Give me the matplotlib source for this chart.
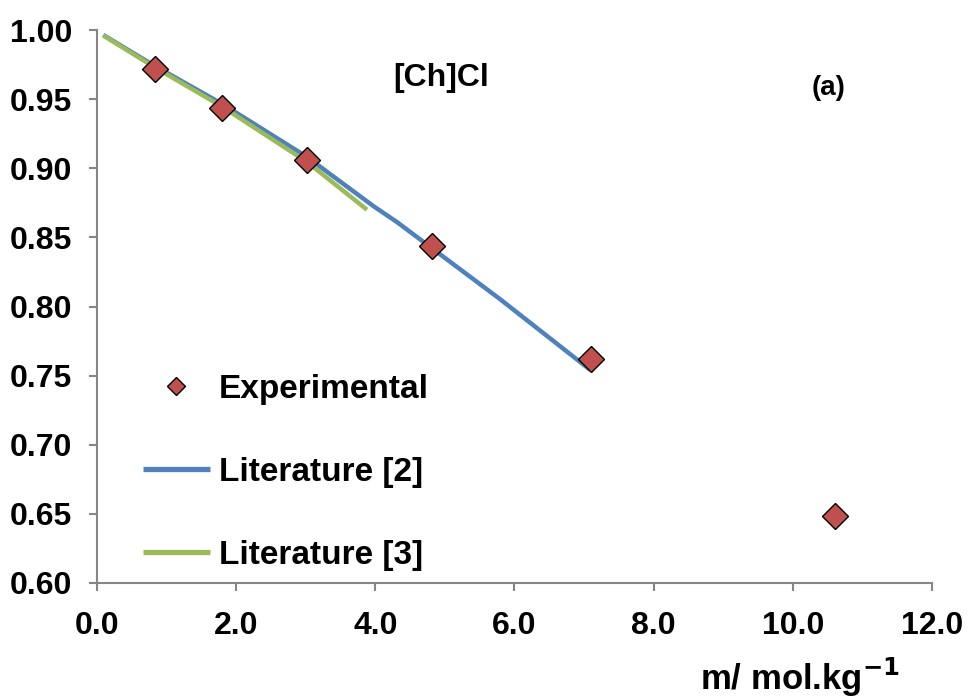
import matplotlib
matplotlib.use("Agg")
import matplotlib.pyplot as plt
from matplotlib.lines import Line2D

plt.rcParams['font.family'] = ['Liberation Sans', 'DejaVu Sans']
plt.rcParams['font.weight'] = 'bold'
plt.rcParams['mathtext.default'] = 'bf'

# Data
exp_m = [0.83, 1.80, 3.02, 4.81, 7.10, 10.61]
exp_phi = [0.972, 0.9436, 0.906, 0.8438, 0.762, 0.6485]

lit2_m = [0.09, 0.83, 1.80, 3.02, 3.97, 4.31, 4.81, 5.79, 7.09]
lit2_phi = [0.9964, 0.974, 0.9465, 0.9081, 0.8727, 0.8611, 0.8423, 0.8054, 0.7541]

lit3_m = [0.09, 0.83, 1.80, 3.02, 3.88]
lit3_phi = [0.996, 0.973, 0.9445, 0.9045, 0.870]

x_ticks = [0, 2, 4, 6, 8, 10, 12]
x_ticklabels = ["0.0", "2.0", "4.0", "6.0", "8.0", "10.0", "12.0"]
y_ticks = [0.60, 0.65, 0.70, 0.75, 0.80, 0.85, 0.90, 0.95, 1.00]
y_ticklabels = ["0.60", "0.65", "0.70", "0.75", "0.80", "0.85", "0.90", "0.95", "1.00"]

W, H = 970, 699
fig = plt.figure(figsize=(9.7, 6.99), dpi=100)
ax = fig.add_axes([97 / W, (H - 583) / H, (932 - 97) / W, (583 - 30) / H])

blue = '#4F81BD'
green = '#9BBB59'
red = '#C0504D'
grey = '#868686'

l2, = ax.plot(lit2_m, lit2_phi, color=blue, lw=3.2, solid_capstyle='butt', zorder=2)
l3, = ax.plot(lit3_m, lit3_phi, color=green, lw=3.2, solid_capstyle='butt', zorder=2)
ax.plot(exp_m, exp_phi, linestyle='none', marker='D', markersize=13.5,
        markerfacecolor=red, markeredgecolor='black', markeredgewidth=1.0, zorder=3)

ax.set_xlim(0, 12)
ax.set_ylim(0.60, 1.00)
ax.set_xticks(x_ticks)
ax.set_xticklabels(x_ticklabels)
ax.set_yticks(y_ticks)
ax.set_yticklabels(y_ticklabels)

for s in ['top', 'right']:
    ax.spines[s].set_visible(False)
for s in ['left', 'bottom']:
    ax.spines[s].set_color(grey)
    ax.spines[s].set_linewidth(1.5)
ax.tick_params(axis='both', direction='out', length=6, width=1.5, color=grey,
               labelsize=23)
ax.tick_params(axis='y', pad=12)
ax.tick_params(axis='x', pad=14)
for lab in ax.get_xticklabels() + ax.get_yticklabels():
    lab.set_fontweight('bold')

ax.set_xlabel("m/ mol.kg$^{-1}$", fontsize=25, fontweight='bold')
ax.xaxis.label.set_va('baseline')
ax.xaxis.set_label_coords((800 - 97) / (932 - 97), -(690 - 583) / (583 - 30))

ax.text(441 / W, 1 - 78 / H, "[Ch]Cl", transform=fig.transFigure, fontsize=23,
        fontweight='bold', ha='center', va='center')
ax.text(829 / W, 1 - 88 / H, "(a)", transform=fig.transFigure, fontsize=20,
        fontweight='bold', ha='center', va='center')

h_exp = Line2D([], [], linestyle='none', marker='D', markersize=9,
               markerfacecolor=red, markeredgecolor='black', markeredgewidth=1.0)
h_l2 = Line2D([], [], color=blue, lw=3.8, solid_capstyle='butt')
h_l3 = Line2D([], [], color=green, lw=3.8, solid_capstyle='butt')
leg = ax.legend([h_exp, h_l2, h_l3], ["Experimental", "Literature [2]", "Literature [3]"],
                loc='upper left', bbox_to_anchor=(143 / W, 1 - 374 / H),
                bbox_transform=fig.transFigure, frameon=False,
                prop={'size': 24, 'weight': 'bold'}, handlelength=2.0,
                handletextpad=0.28, labelspacing=1.56, borderpad=0, borderaxespad=0)

fig.savefig("out.png", dpi=100)
